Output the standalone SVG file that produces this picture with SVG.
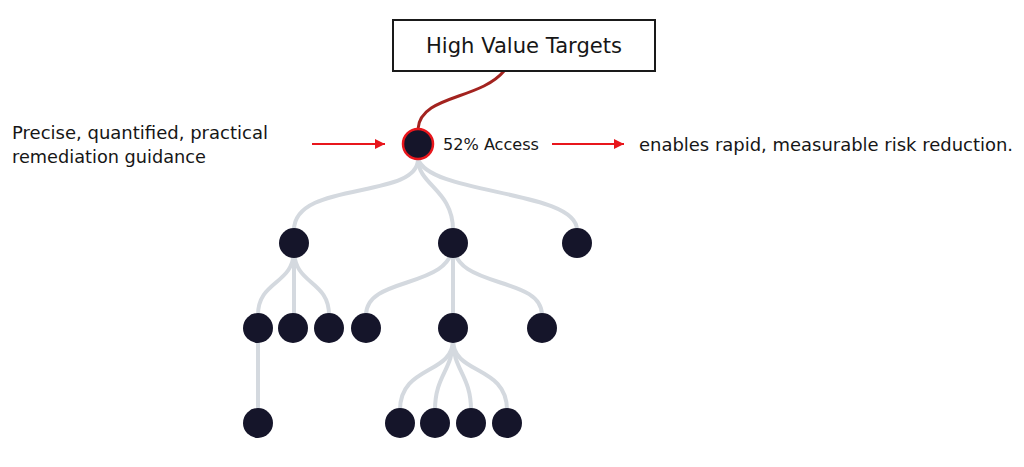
<svg xmlns="http://www.w3.org/2000/svg" width="1024" height="467" viewBox="0 0 1024 467">
<defs>
<style>
.t{font-family:"DejaVu Sans","Liberation Sans",Arial,sans-serif;fill:#161616}
.n{fill:#15152a}
.e{fill:none;stroke:#d4d9df;stroke-width:4;stroke-linecap:round}
.a{stroke:#e8161c;stroke-width:2}
</style>
<marker id="ah" viewBox="0 0 10 10" refX="10" refY="5" markerWidth="5" markerHeight="5" orient="auto" markerUnits="strokeWidth"><path d="M0,0L10,5L0,10z" fill="#e8161c"/></marker>
</defs>
<rect width="1024" height="467" fill="#fff"/>
<g id="connectors">
<path class="e" d="M418,159 C418,200 294,180 294,230"/>
<path class="e" d="M418,159 C418,185 453,190 453,230"/>
<path class="e" d="M418,159 C430,195 577,190 577,230"/>
<path class="e" d="M294,243 L294,315"/>
<path class="e" d="M294,250 C294,285 258,280 258,315"/>
<path class="e" d="M294,250 C294,285 329,280 329,315"/>
<path class="e" d="M453,243 C453,290 366,275 366,315"/>
<path class="e" d="M453,243 L453,315"/>
<path class="e" d="M453,243 C453,290 542,275 542,315"/>
<path class="e" d="M258,328 L258,410"/>
<path class="e" d="M453,340 C453,375 400,365 400,410"/>
<path class="e" d="M453,340 C453,370 435,375 435,410"/>
<path class="e" d="M453,340 C453,370 471,375 471,410"/>
<path class="e" d="M453,340 C453,375 507,365 507,410"/>
<path d="M504,71 C480,100 420,95 418,129" fill="none" stroke="#a3231f" stroke-width="3"/>
<line class="a" x1="312" y1="144" x2="385" y2="144" marker-end="url(#ah)"/>
<line class="a" x1="552" y1="144" x2="624" y2="144" marker-end="url(#ah)"/>
</g>
<g id="hvt">
<rect x="393" y="20" width="262" height="51" fill="#fff" stroke="#1a1a1a" stroke-width="2"/>
<text class="t" x="426" y="53" font-size="21" textLength="196" lengthAdjust="spacingAndGlyphs">High Value Targets</text>
</g>
<g id="root">
<circle cx="418" cy="144" r="15" fill="#15152a" stroke="#e8161c" stroke-width="2.5"/>
<text class="t" x="443" y="150" font-size="16" textLength="96" lengthAdjust="spacingAndGlyphs">52% Access</text>
</g>
<g id="left-text"><text class="t" font-size="18"><tspan x="12" y="139" textLength="256" lengthAdjust="spacingAndGlyphs">Precise, quantified, practical</tspan><tspan x="12" y="163" textLength="194" lengthAdjust="spacingAndGlyphs">remediation guidance</tspan></text></g>
<g id="right-text"><text class="t" x="639" y="151" font-size="18" textLength="374" lengthAdjust="spacingAndGlyphs">enables rapid, measurable risk reduction.</text></g>
<g id="l1a"><circle class="n" cx="294" cy="243" r="15"/></g>
<g id="l1b"><circle class="n" cx="453" cy="243" r="15"/></g>
<g id="l1c"><circle class="n" cx="577" cy="243" r="15"/></g>
<g id="l2a"><circle class="n" cx="258" cy="328" r="15"/></g>
<g id="l2b"><circle class="n" cx="293" cy="328" r="15"/></g>
<g id="l2c"><circle class="n" cx="329" cy="328" r="15"/></g>
<g id="l2d"><circle class="n" cx="366" cy="328" r="15"/></g>
<g id="l2e"><circle class="n" cx="453" cy="328" r="15"/></g>
<g id="l2f"><circle class="n" cx="542" cy="328" r="15"/></g>
<g id="l3a"><circle class="n" cx="258" cy="423" r="15"/></g>
<g id="l3b"><circle class="n" cx="400" cy="423" r="15"/></g>
<g id="l3c"><circle class="n" cx="435" cy="423" r="15"/></g>
<g id="l3d"><circle class="n" cx="471" cy="423" r="15"/></g>
<g id="l3e"><circle class="n" cx="507" cy="423" r="15"/></g>
</svg>
